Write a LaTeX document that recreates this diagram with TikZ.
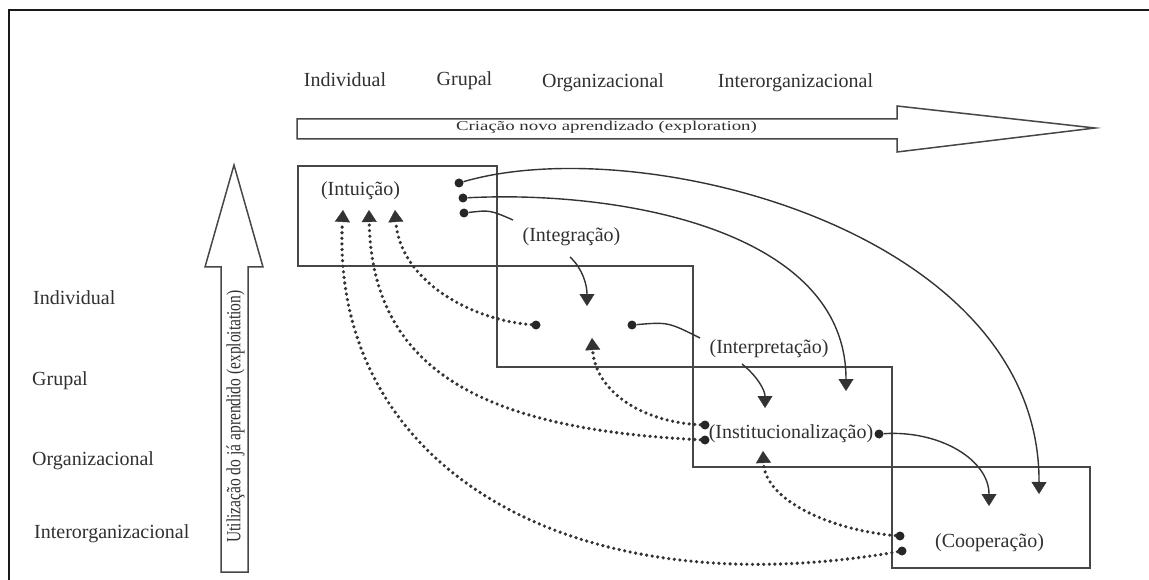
\documentclass[tikz,border=0pt]{standalone}
\usepackage{fontspec}
\setmainfont{Liberation Serif}
\usetikzlibrary{arrows.meta}
\definecolor{ink}{HTML}{333333}
\definecolor{txt}{HTML}{303030}
\begin{document}
\begin{tikzpicture}[x=1pt,y=-1pt,
  lbl/.style={font=\fontsize{20}{24}\selectfont, text=txt, inner sep=0pt},
  stage/.style={lbl, anchor=base},
  side/.style={lbl, anchor=base west},
  box/.style={draw=ink!90, line width=1.3pt},
  dot/.style={circle, fill=black!85, minimum size=9pt, inner sep=0pt},
  plain/.style={draw=ink, line width=1.4pt},
  flow/.style={plain, -{Triangle[width=15pt,length=12pt,line width=0.4pt]}},
  back/.style={draw=black!80, line width=3.6pt, line cap=round, dash pattern=on 0pt off 5.6pt,
    -{Triangle[width=15pt,length=12pt,line width=0.4pt]}},
  bigarrow/.style={draw=ink!90, line width=1.5pt, line join=miter, fill=white}]
\useasboundingbox (0,0) rectangle (1149,580);
% frame
\draw[line width=2.5pt, black!90] (9,580) -- (9,10) -- (1149,10);
% top level labels
\node[stage] (tInd) at (345,87) {Individual};
\node[stage] (tGru) at (464.5,86) {Grupal};
\node[stage] (tOrg) at (603,88) {Organizacional};
\node[stage] (tInt) at (795.5,88) {Interorganizacional};
% left level labels
\node[side] (lInd) at (33,305) {Individual};
\node[side] (lGru) at (32,385) {Grupal};
\node[side] (lOrg) at (32,465) {Organizacional};
\node[side] (lInt) at (34,538) {Interorganizacional};
% big horizontal arrow
\draw[bigarrow] (297,119) -- (897,119) -- (897,106) -- (1095,128) -- (897,152) -- (897,139) -- (297,139) -- cycle;
\node[lbl, anchor=base, font=\fontsize{13.5}{16}\selectfont] (explor) at (606.5,131) {\scalebox{1.395}[1]{Criação novo aprendizado (exploration)}};
% big vertical arrow
\draw[bigarrow] (221,572) -- (221,267) -- (205,267) -- (234,165) -- (263,267) -- (248,267) -- (248,572) -- cycle;
\node[lbl, rotate=90, font=\fontsize{20}{22}\selectfont] (exploit) at (235.5,416.5) {\scalebox{0.775}[1]{Utilização do já aprendido (exploitation)}};
% boxes
\draw[box] (298,166) rectangle (497,266);
\draw[box] (497,266) rectangle (693,367);
\draw[box] (693,367) rectangle (892,467);
\draw[box] (892,467) rectangle (1090,568);
% stage labels
\node[stage] (intu) at (360.5,196) {(Intuição)};
\node[stage] (integ) at (571.5,242) {(Integração)};
\node[stage] (interp) at (769,353) {(Interpretação)};
\node[stage] (inst) at (791,438) {(Institucionalização)};
\node[stage] (coop) at (989.5,547) {(Cooperação)};
% dots
\node[dot] (a1) at (459,183) {};
\node[dot] (a2) at (463,198) {};
\node[dot] (a3) at (464,213) {};
\node[dot] (b1) at (536,325) {};
\node[dot] (b2) at (632,325) {};
\node[dot] (c1) at (705,425) {};
\node[dot] (c2) at (705,440) {};
\node[dot] (c3) at (879,434) {};
\node[dot] (e1) at (900,536) {};
\node[dot] (e2) at (902,551) {};
% arrow tip points
\coordinate (tA1) at (343,210);
\coordinate (tA2) at (369,210);
\coordinate (tA3) at (395,210);
\coordinate (tB) at (592,338);
\coordinate (tBd) at (587,306);
\coordinate (tC) at (763,451);
\coordinate (tCd1) at (765,408);
\coordinate (tCd2) at (846,391);
\coordinate (tE1) at (989,506);
\coordinate (tE2) at (1039,494);
% label side ends
\coordinate (g1) at (513,220);
\coordinate (g2) at (570,257);
\coordinate (p1) at (700,338);
\coordinate (p2) at (742,364);
% solid connectors
\draw[plain] (a3) .. controls (490,210) .. (g1);
\draw[flow] (g2) .. controls (582,268) and (587,284) .. (tBd);
\draw[plain] (b2) .. controls (668,322) .. (p1);
\draw[flow] (p2) .. controls (757,376) and (765,390) .. (tCd1);
\draw[flow] (a1) .. controls (640,130) and (1040,230) .. (tE2);
\draw[flow] (a2) .. controls (620,190) and (846,230) .. (tCd2);
\draw[flow] (c3) .. controls (940,430) and (989,460) .. (tE1);
% dotted feedback connectors
\draw[back] (b1) .. controls (470,320) and (400,280) .. (tA3);
\draw[back] (c1) .. controls (640,422) and (595,390) .. (tB);
\draw[back] (c2) .. controls (500,430) and (372,380) .. (tA2);
\draw[back] (e1) .. controls (830,530) and (765,500) .. (tC);
\draw[back] (e2) .. controls (560,610) and (330,460) .. (tA1);
\end{tikzpicture}
\end{document}
